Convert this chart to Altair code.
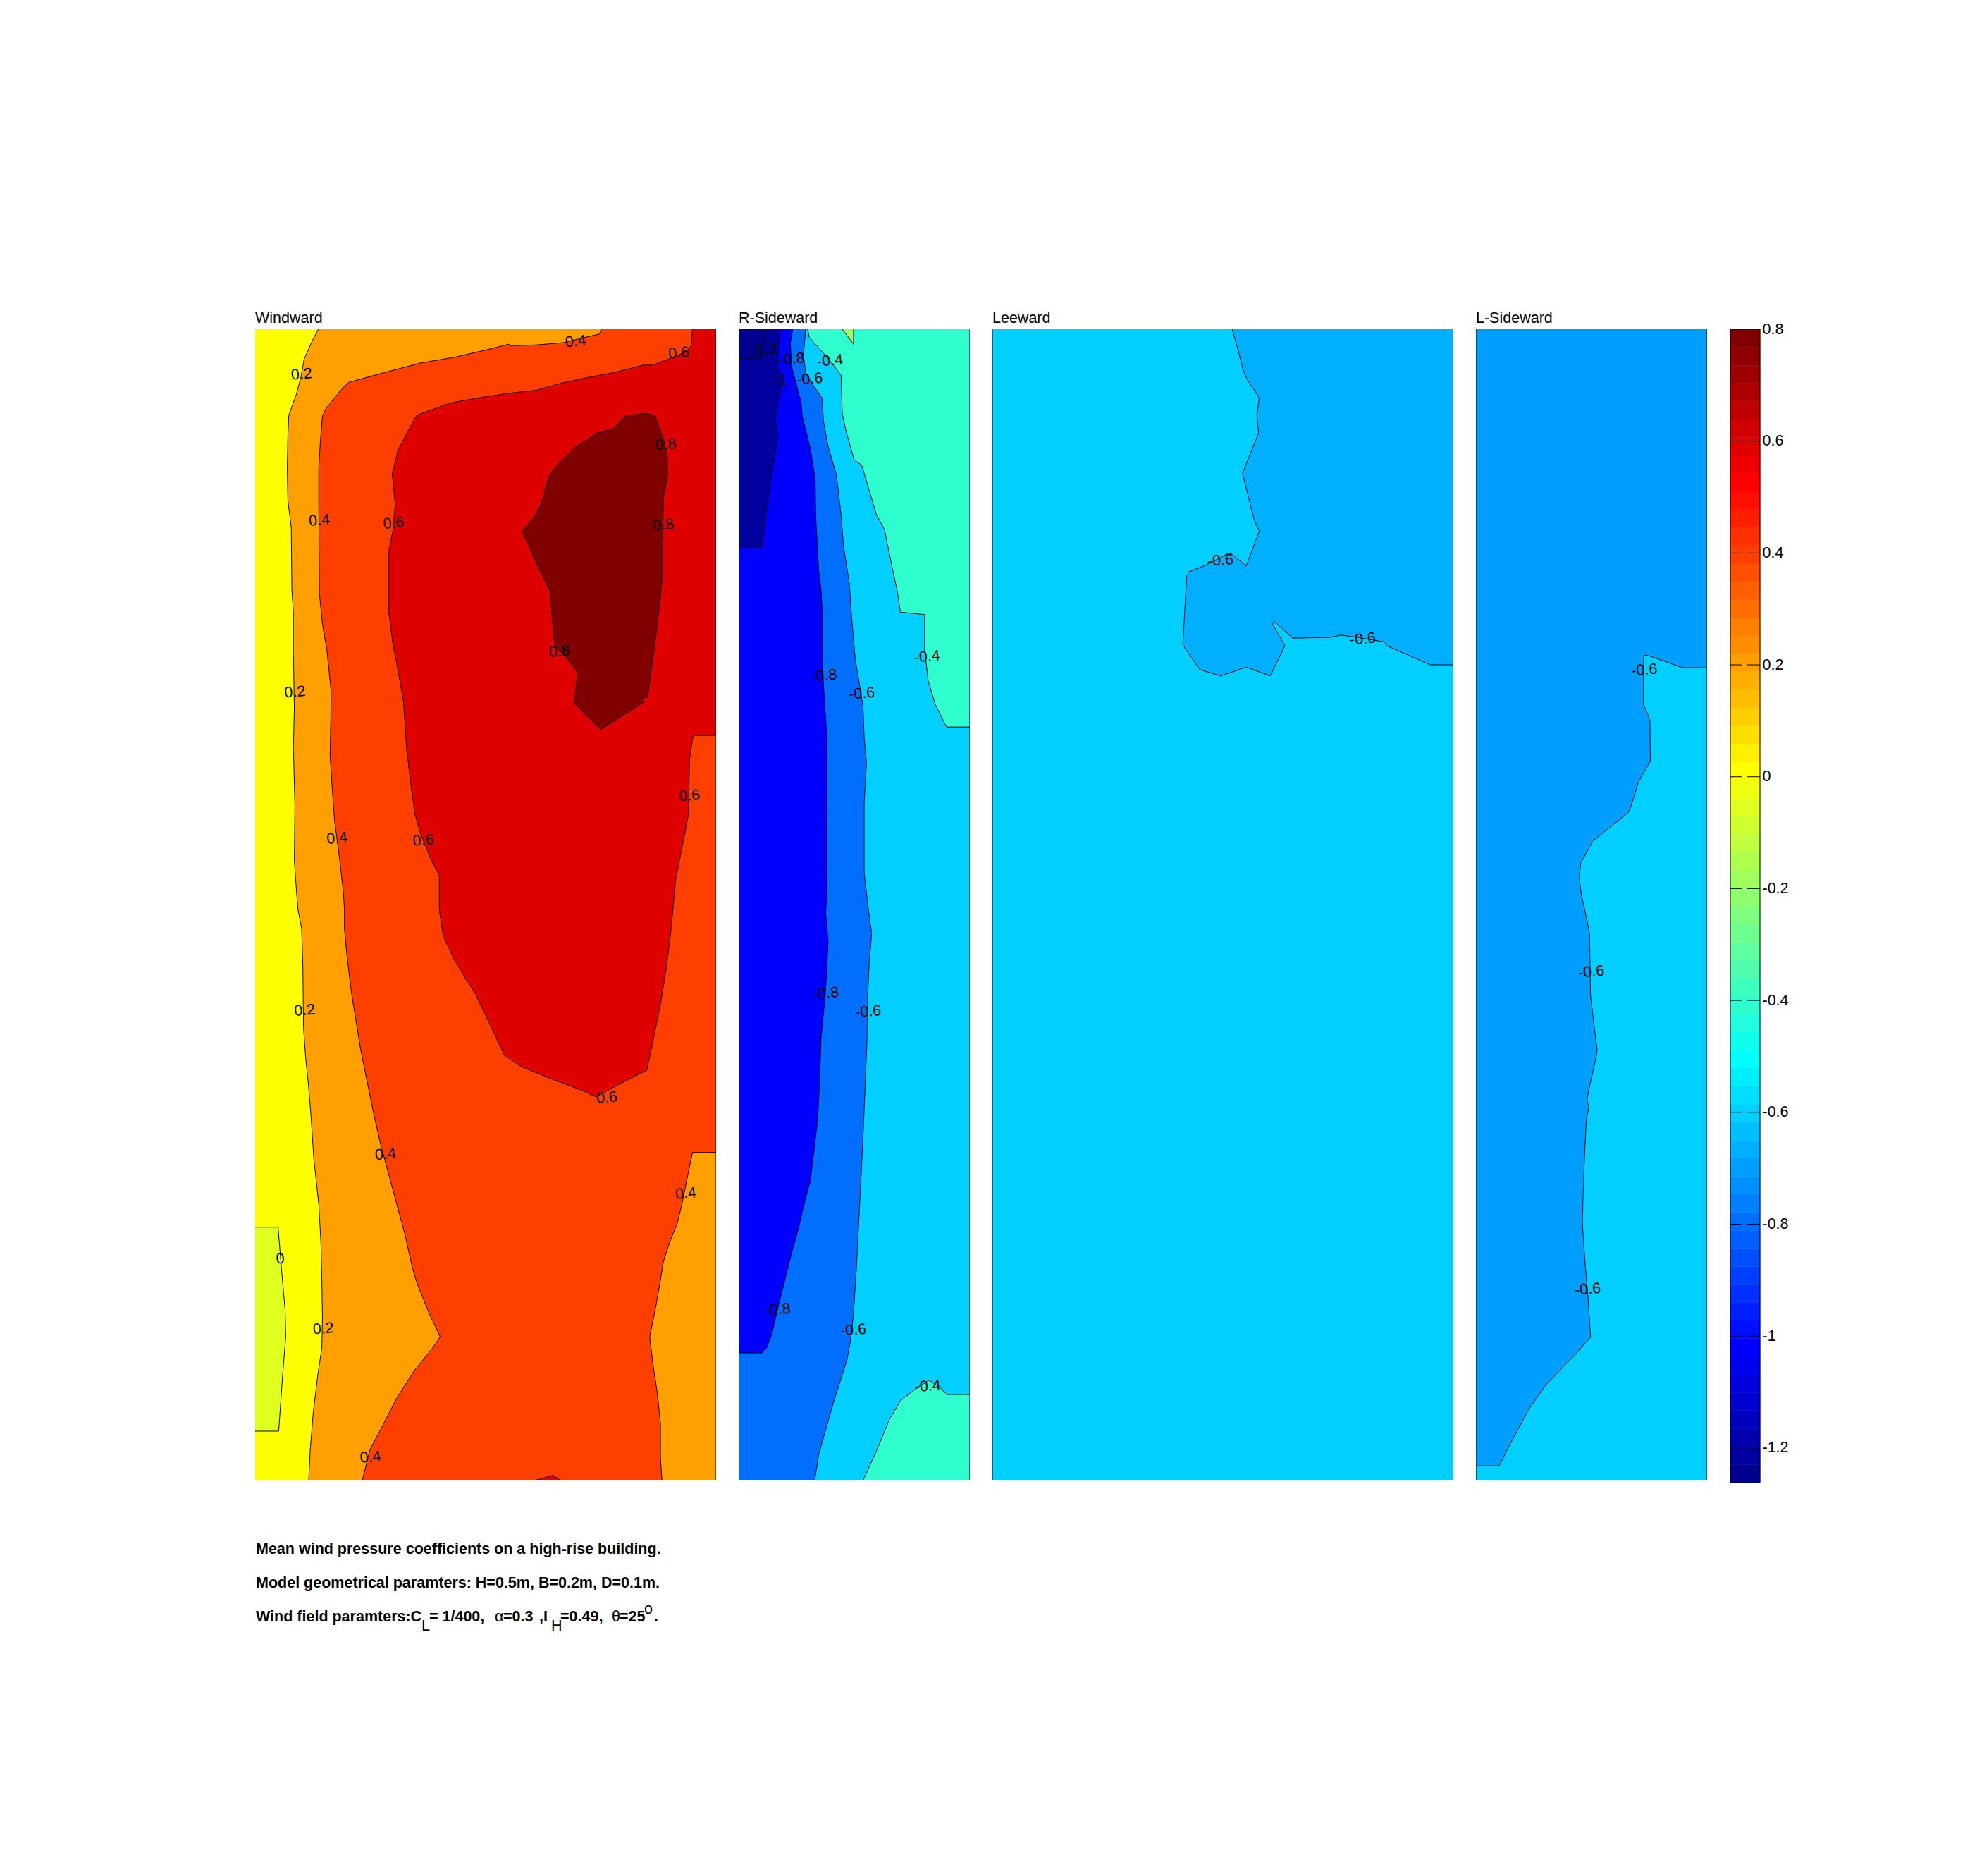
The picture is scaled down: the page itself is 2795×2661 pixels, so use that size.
import altair as alt
import pandas as pd

FONT = "Liberation Sans"
TEXT_SIZE = 21.5
H_M = 0.5
B_M = 0.2
D_M = 0.1
TOP_PX, BOTTOM_PX = 467.0, 2100.0
PANEL_H = 1633
WIDE_W, WIDE_W2, SIDE_W = 654, 654, 328

# ---------- jet(64), the colour bar ----------
JET64 = [
 "#00008F","#00009F","#0000AF","#0000BF","#0000CF","#0000DF","#0000EF","#0000FF",
 "#000FFF","#001FFF","#002FFF","#003FFF","#004FFF","#005FFF","#006FFF","#007FFF",
 "#008FFF","#009FFF","#00AFFF","#00BFFF","#00CFFF","#00DFFF","#00EFFF","#00FFFF",
 "#0FFFEF","#1FFFDF","#2FFFCF","#3FFFBF","#4FFFAF","#5FFF9F","#6FFF8F","#7FFF7F",
 "#8FFF6F","#9FFF5F","#AFFF4F","#BFFF3F","#CFFF2F","#DFFF1F","#EFFF0F","#FFFF00",
 "#FFEF00","#FFDF00","#FFCF00","#FFBF00","#FFAF00","#FF9F00","#FF8F00","#FF7F00",
 "#FF6F00","#FF5F00","#FF4F00","#FF3F00","#FF2F00","#FF1F00","#FF0F00","#FF0000",
 "#EF0000","#DF0000","#CF0000","#BF0000","#AF0000","#9F0000","#8F0000","#800000",
]
CBAR_MIN, CBAR_MAX = -1.262, 0.8
CBAR_TICKS = [0.8, 0.6, 0.4, 0.2, 0, -0.2, -0.4, -0.6, -0.8, -1, -1.2]
CBAR_MARKS = [0.6, 0.4, 0.2, 0, -0.2, -0.4, -0.6, -0.8, -1, -1.2]

# ---------- digitised contours: (x, y) ----------
# Windward, upper half (a) and lower half (b)
WW_02a = [(237,67),(218,95),(190,145),(180,190),(165,235),(140,290),(137,340),(135,430),(137,510),(148,580),(150,740),(155,800),(155,900),(158,1050),(155,1150),(160,1300),(158,1440),(165,1520),(170,1568)]
WW_02b = [(182,70),(186,170),(188,330),(195,410),(205,490),(213,570),(222,680),(238,800),(245,900),(248,1000),(250,1100),(248,1180),(235,1250),(220,1350),(210,1450),(205,1531)]
WW_04a = [(1163,67),(1155,80),(1100,90),(1040,102),(950,108),(865,110),(860,106),(780,122),(680,140),(570,155),(450,180),(335,205),(310,225),(262,272),(250,292),(243,360),(238,430),(238,520),(240,750),(250,830),(265,900),(278,1000),(278,1050),(275,1170),(285,1290),(290,1340),(305,1430),(318,1520),(322,1568)]
WW_04b = [(322,70),(330,140),(345,240),(375,390),(395,470),(415,550),(440,640),(470,730),(490,790),(520,880),(545,970),(560,1010),(600,1090),(635,1150),(610,1180),(550,1240),(495,1310),(450,1380),(405,1450),(380,1531)]
WW_04R = [(1537,662),(1460,662),(1445,720),(1425,800),(1410,850),(1385,900),(1365,950),(1355,1000),(1340,1070),(1320,1150),(1330,1220),(1345,1300),(1355,1380),(1355,1470),(1360,1531)]
WW_06a = [(1460,67),(1455,110),(1440,125),(1380,145),(1345,155),(1330,160),(1300,160),(1200,180),(1100,195),(1030,207),(950,225),(860,233),(760,245),(670,258),(620,272),(558,290),(530,330),(497,380),(485,420),(478,440),(488,520),(480,590),(467,640),(467,800),(480,880),(495,940),(515,1030),(525,1150),(540,1250),(552,1320),(570,1370),(605,1440),(632,1480),(632,1568)]
WW_06b = [(645,90),(680,150),(720,205),(745,235),(790,310),(845,405),(900,435),(1000,468),(1090,495),(1145,515),(1200,490),(1310,445),(1325,390),(1355,270),(1375,170),(1390,70),(1398,0)]
WW_06c = [(1405,1490),(1440,1350),(1447,1320),(1450,1180),(1462,1118),(1537,1118)]
WW_08 = [(903,590),(945,550),(965,520),(990,450),(1010,425),(1080,370),(1150,335),(1200,325),(1240,292),(1310,285),(1338,292),(1365,350),(1378,400),(1378,450),(1365,500),(1362,600),(1362,700),(1355,760),(1340,860),(1320,980),(1312,1020),(1298,1020),(1300,1032),(1160,1103),(1073,1035),(1085,955),(1050,920),(1010,885),(1005,850),(995,745),(960,690),(903,590)]
WW_06FOOT = [(942,1531),(1005,1517),(1030,1531)]
WW_00 = [(30,860),(105,860),(115,960),(128,1080),(130,1150),(120,1250),(107,1400),(30,1400)]
WW_LABELS_A = [(182,185,"0.2"),(240,563,"0.4"),(483,570,"0.6"),(1078,100,"0.4"),(1415,130,"0.6"),(1373,367,"0.8"),(1365,575,"0.8"),(1025,902,"0.8"),(160,1007,"0.2"),(298,1385,"0.4"),(580,1390,"0.6"),(1450,1275,"0.6")]
WW_LABELS_B = [(192,287,"0.2"),(456,668,"0.4"),(1180,518,"0.6"),(1438,772,"0.4"),(112,945,"0"),(253,1130,"0.2"),(407,1470,"0.4")]

# R-Sideward, three crops (a, b, c)
RS_TRI = [(465,110),(513,175),(513,110)]
RS_BOX = [(140,110),(125,238),(25,238)]
RS_10a = [(200,110),(190,265),(210,340),(180,480),(190,570),(140,900)]
RS_10b = [(125,127),(25,127)]
RS_08a = [(255,110),(245,170),(250,270),(290,420),(295,480),(330,620),(350,750),(352,900)]
RS_08b = [(365,200),(375,260),(380,330),(382,520),(390,620),(397,700),(400,800),(400,920),(398,1050),(400,1200),(395,1290),(405,1380),(397,1500),(390,1568)]
RS_08c = [(375,120),(368,270),(360,380),(330,570),(322,590),(295,670),(280,720),(250,800),(190,980),(165,1060),(145,1100),(125,1118),(25,1118)]
RS_06a = [(310,110),(300,220),(310,300),(380,405),(385,500),(405,610),(440,730),(460,900)]
RS_06b = [(470,120),(495,240),(505,350),(520,480),(540,570),(553,630),(558,730),(568,810),(558,940),(558,1160),(575,1270),(590,1355),(580,1440),(572,1568)]
RS_06c = [(570,130),(555,400),(545,560),(525,850),(512,1000),(500,1080),(485,1140),(430,1270),(365,1440),(348,1524)]
RS_04a = [(318,110),(325,145),(400,230),(460,305),(465,470),(480,540),(515,665),(548,690),(610,900)]
RS_04b = [(645,70),(655,110),(680,200),(700,270),(712,332),(815,340),(815,450),(830,550),(860,625),(908,697),(1007,697)]
RS_04c = [(1007,1250),(908,1250),(880,1228),(835,1205),(790,1225),(712,1270),(665,1330),(610,1430),(553,1524)]
RS_LABELS_A = [(133,200,"-1.2"),(250,240,"-0.8"),(413,247,"-0.4"),(205,330,"-1"),(327,325,"-0.6")]
RS_LABELS_B = [(387,535,"-0.8"),(548,592,"-0.6"),(825,475,"-0.4"),(395,1545,"-0.8")]
RS_LABELS_C = [(575,35,"-0.6"),(190,982,"-0.8"),(512,1047,"-0.6"),(828,1225,"-0.4")]

# Leeward
LW_06 = [(443,48),(465,120),(490,210),(505,245),(545,300),(558,320),(548,390),(555,460),(487,620),(535,800),(548,830),(558,850),(503,988),(440,940),(425,937),(395,955),(330,985),(258,1012),(250,1030),(233,1302),(305,1400),(395,1425),(503,1390),(605,1425),(667,1305),(615,1220),(622,1208),(700,1275),(860,1272),(905,1263),(960,1270),(1090,1290),(1100,1305),(1285,1381),(1385,1381)]
LW_LABELS = [(393,968,"-0.6"),(998,1280,"-0.6")]

# L-Sideward, two crops (a, b)
LS_06a = [(1025,123),(920,123),(775,78),(762,76),(755,85),(755,260),(775,300),(782,320),(784,470),(750,520),(732,550),(715,600),(700,640),(690,660),(540,765),(488,848),(482,900),(490,960),(515,1060),(526,1110),(528,1250),(530,1340),(545,1450),(558,1540),(553,1568)]
LS_06b = [(540,50),(520,125),(515,155),(523,175),(512,225),(505,340),(500,450),(495,590),(505,720),(520,870),(530,1003),(460,1070),(340,1175),(265,1265),(180,1400),(142,1465),(43,1465)]
LS_LABELS_A = [(758,133,"-0.6"),(533,1252,"-0.6")]
LS_LABELS_B = [(518,833,"-0.6")]

# ---------- captions ----------
CAPTION = [
 (363,2198,"Mean wind pressure coefficients on a high-rise building.","bold"),
 (363,2246,"Model geometrical paramters: H=0.5m, B=0.2m, D=0.1m.","bold"),
 (363,2294,"Wind field paramters:C","bold"),
 (598,2307,"L","normal"),
 (609,2294,"= 1/400,","bold"),
 (702,2294,"\u03b1","normal"),
 (714,2294,"=0.3","bold"),
 (765,2294,",I","bold"),
 (782,2307,"H","normal"),
 (795,2294,"=0.49,","bold"),
 (868,2294,"\u03b8","normal"),
 (879,2294,"=25","bold"),
 (914,2283,"o","normal"),
 (928,2294,".","bold"),
]

# ---------- digitised picture units to metres on the face ----------
def h_m(y_px):
    return H_M * (BOTTOM_PX - y_px) / (BOTTOM_PX - TOP_PX)

def ww(pts, y0, k):
    return [((p[0] - 30) / 1507 * B_M, h_m(y0 + p[1] * k)) + tuple(p[2:]) for p in pts]
def rs(pts, y0, k):
    return [((p[0] - 25) / 982 * D_M, h_m(y0 + p[1] * k)) + tuple(p[2:]) for p in pts]
def lw(pts):
    return [((1600 + p[0] / 3 - 1408) / 653 * B_M, h_m(450 + p[1] * 0.357)) + tuple(p[2:]) for p in pts]
def ls(pts, y0, k):
    return [((p[0] - 43) / 982 * D_M, h_m(y0 + p[1] * k)) + tuple(p[2:]) for p in pts]

WA = lambda p: ww(p, 430, 0.5485)
WB = lambda p: ww(p, 1280, 0.5357)
RA = lambda p: rs(p, 430, 1 / 3)
RB = lambda p: rs(p, 720, 0.4464)
RC = lambda p: rs(p, 1420, 0.4464)
LA = lambda p: ls(p, 900, 0.3827)
LB = lambda p: ls(p, 1500, 0.3954)

ww02 = WA(WW_02a) + WB(WW_02b)
ww04 = WA(WW_04a) + WB(WW_04b)
ww04r = WB(WW_04R)
ww06 = WA(WW_06a) + WB(WW_06b) + WA(WW_06c)
ww08 = WA(WW_08)
ww06f = WB(WW_06FOOT)
ww00 = WB(WW_00)

rs04t = RA(RS_04a) + RB(RS_04b)
rs04b = RC(RS_04c)
rs06 = RA(RS_06a) + RB(RS_06b) + RC(RS_06c)
rs08 = RA(RS_08a) + RB(RS_08b) + RC(RS_08c)
rs10 = RA(RS_10a) + RB(RS_10b)
rstri = RA(RS_TRI)
rsbox = RA(RS_BOX)

lw06 = lw(LW_06)
ls06 = LA(LS_06a) + LB(LS_06b)

def frame(points):
    return pd.DataFrame({"x": [p[0] for p in points], "y": [p[1] for p in points],
                         "i": list(range(len(points)))})

def panel(width, depth, title, regions, contours, labels, caption=None):
    sx = alt.Scale(domain=[0, depth], nice=False, zero=False)
    sy = alt.Scale(domain=[0, H_M], nice=False, zero=False)
    X = alt.X("x:Q", scale=sx, axis=None)
    Y = alt.Y("y:Q", scale=sy, axis=None)
    layers = []
    for colour, pts in regions:
        layers.append(alt.Chart(frame(pts)).mark_line(
            filled=True, fill=colour, stroke=colour, strokeWidth=0, clip=True
        ).encode(x=X, y=Y, order="i:Q"))
    for pts in contours:
        layers.append(alt.Chart(frame(pts)).mark_line(
            stroke="black", strokeWidth=1, clip=True
        ).encode(x=X, y=Y, order="i:Q"))
    ldf = pd.DataFrame({"x": [p[0] for p in labels], "y": [p[1] for p in labels],
                        "t": [p[2] for p in labels]})
    layers.append(alt.Chart(ldf).mark_text(
        font=FONT, fontSize=TEXT_SIZE, angle=355, color="black"
    ).encode(x=X, y=Y, text="t:N"))
    if caption is not None:
        cdf = pd.DataFrame({"x": [(c[0] - 362) / width * depth for c in caption],
                            "y": [h_m(c[1]) for c in caption],
                            "t": [c[2] for c in caption],
                            "w": [c[3] for c in caption]})
        for w in ["bold", "normal"]:
            layers.append(alt.Chart(cdf[cdf.w == w]).mark_text(
                font=FONT, fontSize=TEXT_SIZE, fontWeight=w, align="left", baseline="middle",
                color="black"
            ).encode(x=X, y=Y, text="t:N"))
    return alt.layer(*layers).properties(
        width=width, height=PANEL_H,
        title=alt.TitleParams(title, anchor="start", font=FONT, fontSize=TEXT_SIZE,
                              fontWeight="normal", color="black", offset=5),
    )

def edge(depth, at):
    return [(at, 0.0), (at, H_M)]

W = B_M
D = D_M
full_w = [(0, 0), (W, 0), (W, H_M), (0, H_M)]
full_d = [(0, 0), (D, 0), (D, H_M), (0, H_M)]

windward = panel(WIDE_W, W, "Windward",
    regions=[
        ("#FFFF00", full_w),
        ("#DFFF1F", ww00),
        ("#FF9F00", ww02 + [(W, 0), (W, H_M)]),
        ("#FF3F00", ww04 + ww04r[::-1] + [(W, H_M)]),
        ("#DF0000", ww06 + [(W, H_M)]),
        ("#800000", ww08),
        ("#DF0000", ww06f),
    ],
    contours=[ww00, ww02, ww04, ww04r, ww06, ww08, ww06f, edge(W, W)],
    labels=WA(WW_LABELS_A) + WB(WW_LABELS_B),
    caption=CAPTION)

r_side = panel(SIDE_W, D, "R-Sideward",
    regions=[
        ("#00CFFF", full_d),
        ("#2FFFCF", rs04t + [(D, H_M)]),
        ("#2FFFCF", rs04b + [(D, 0)]),
        ("#9FFF5F", rstri),
        ("#006FFF", rs06 + [(0, 0), (0, H_M)]),
        ("#0000FF", rs08 + [(0, H_M)]),
        ("#00009F", rs10 + [(0, H_M)]),
        ("#00008F", rsbox + [(0, H_M)]),
    ],
    contours=[rs04t, rs04b, rstri, rs06, rs08, rs10, rsbox, edge(D, D)],
    labels=RA(RS_LABELS_A) + RB(RS_LABELS_B) + RC(RS_LABELS_C))

leeward = panel(WIDE_W2, W, "Leeward",
    regions=[("#00CFFF", full_w), ("#00AFFF", lw06 + [(W, H_M)])],
    contours=[lw06, edge(W, 0), edge(W, W)],
    labels=lw(LW_LABELS))

l_side = panel(SIDE_W, D, "L-Sideward",
    regions=[("#00CFFF", full_d), ("#009FFF", ls06 + [(0, H_M), (D, H_M)])],
    contours=[ls06, edge(D, 0), edge(D, D)],
    labels=LA(LS_LABELS_A) + LB(LS_LABELS_B))

# ---------- colour bar ----------
n = len(JET64)
step = (CBAR_MAX - CBAR_MIN) / n
bands = pd.DataFrame({
    "lo": [CBAR_MIN + k * step for k in range(n)],
    "hi": [CBAR_MIN + (k + 1) * step for k in range(n)],
    "c": JET64, "x0": 0.0, "x1": 1.0,
})
bar_y = alt.Y("lo:Q", scale=alt.Scale(domain=[CBAR_MIN, CBAR_MAX], nice=False, zero=False),
              axis=alt.Axis(orient="right", values=CBAR_TICKS, ticks=False, domain=False,
                            grid=False, title=None, labelFont=FONT, labelFontSize=TEXT_SIZE,
                            labelColor="black", labelPadding=3, labelBound=False,
                            labelFlush=False, labelOverlap=False,
                            labelExpr="'' + datum.value"))
bar_x = alt.X("x0:Q", scale=alt.Scale(domain=[0, 1], nice=False, zero=False), axis=None)
bar = alt.Chart(bands).mark_rect(strokeWidth=0.6).encode(
    x=bar_x, x2="x1:Q", y=bar_y, y2="hi:Q",
    fill=alt.Fill("c:N", scale=None), stroke=alt.Stroke("c:N", scale=None))
marks_l = pd.DataFrame({"lo": CBAR_MARKS, "x0": 0.0, "x1": 0.39})
marks_r = pd.DataFrame({"lo": CBAR_MARKS, "x0": 0.55, "x1": 1.0})
tick_l = alt.Chart(marks_l).mark_rule(color="black", strokeWidth=1).encode(x=bar_x, x2="x1:Q", y=alt.Y("lo:Q"))
tick_r = alt.Chart(marks_r).mark_rule(color="black", strokeWidth=1).encode(x=bar_x, x2="x1:Q", y=alt.Y("lo:Q"))
outline = alt.Chart(pd.DataFrame({"x0": [0.0], "x1": [1.0], "lo": [CBAR_MIN], "hi": [CBAR_MAX]})).mark_rect(
    filled=False, stroke="black", strokeWidth=1).encode(x=bar_x, x2="x1:Q", y=alt.Y("lo:Q"), y2="hi:Q")
colorbar = alt.layer(bar, tick_l, tick_r, outline).properties(width=42, height=1636)

chart = alt.hconcat(windward, r_side, leeward, l_side, colorbar, spacing=32).properties(
    padding={"left": 354, "top": 432, "right": 5, "bottom": 5},
    background="white",
).configure_view(stroke=None)

chart.save("out.html", embed_options={"renderer": "svg", "actions": False})
